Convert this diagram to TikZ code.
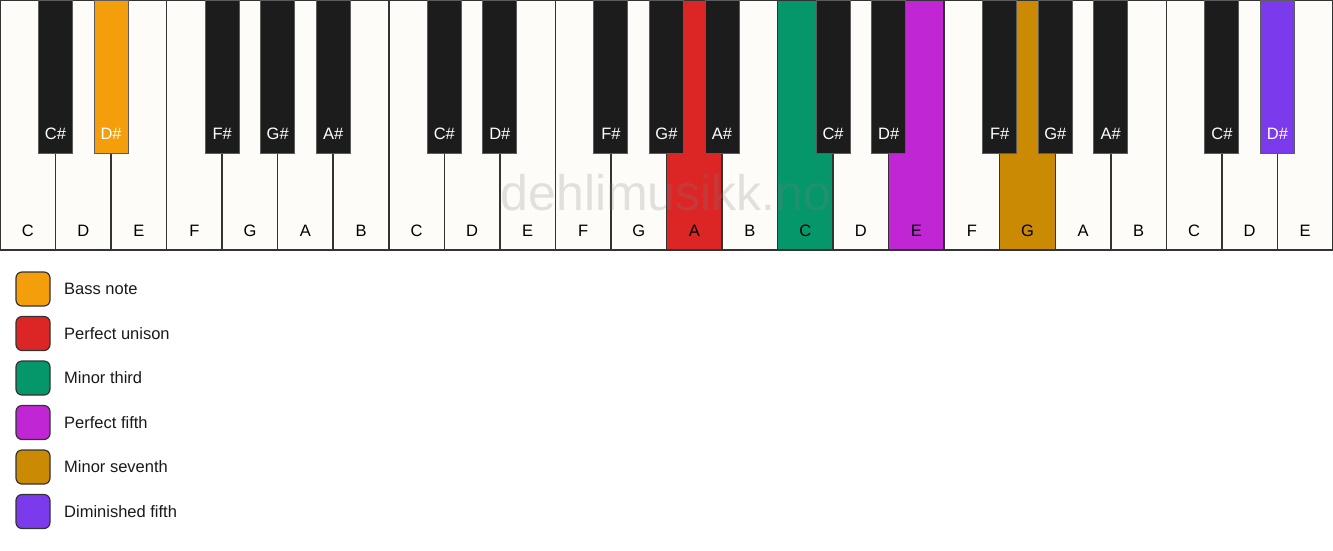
\documentclass[tikz,border=0pt]{standalone}
\usepackage{fontspec}
\setmainfont{Liberation Sans}
\usetikzlibrary{positioning}
\definecolor{ivory}{RGB}{253,252,248}
\definecolor{keyblack}{RGB}{28,28,28}
\definecolor{keyline}{RGB}{51,51,51}
\definecolor{bassnote}{HTML}{F59E0B}
\definecolor{unison}{HTML}{DC2626}
\definecolor{minthird}{HTML}{059669}
\definecolor{perffifth}{HTML}{C026D3}
\definecolor{minseventh}{HTML}{CA8A04}
\definecolor{dimfifth}{HTML}{7C3AED}
\newcommand{\whitewidth}{55.54pt}
\newcommand{\whiteheight}{250pt}
\newcommand{\blackwidth}{34pt}
\newcommand{\blackheight}{153pt}
\newcommand{\swatchsize}{34pt}
\newcommand{\legendgap}{10.5pt}
\tikzstyle{whitekey}=[fill=ivory,draw=keyline,line width=1.5pt,shape=rectangle,
                      inner sep=0pt,outer sep=0pt,
                      minimum width=\whitewidth,minimum height=\whiteheight]
\tikzstyle{blackkey}=[fill=keyblack,draw=keyline!80,line width=1pt,shape=rectangle,
                      inner sep=0pt,outer sep=0pt,
                      minimum width=\blackwidth,minimum height=\blackheight]
\tikzstyle{keyname}=[yshift=29pt,text height=12pt,text depth=0pt,
                     font=\fontsize{16.5}{19}\selectfont]
\tikzstyle{swatch}=[draw=keyline,line width=1.2pt,rounded corners=6pt,shape=rectangle,
                    inner sep=0pt,outer sep=0pt,
                    minimum width=\swatchsize,minimum height=\swatchsize]
\tikzstyle{legendtext}=[text=black!90,inner sep=0pt,font=\fontsize{16.5}{19}\selectfont]
\tikzstyle{watermark}=[text=black!50,text opacity=0.22,font=\fontsize{50}{60}\selectfont]

\begin{document}
\begin{tikzpicture}[x=1pt,y=-1pt]
\useasboundingbox (0,0) rectangle (1333,550);

% white keys
\node [whitekey, anchor=north west, label={[keyname]below:C}] (w0) at (0,0) {};
\node [whitekey, right=0pt of w0,  label={[keyname]below:D}] (w1) {};
\node [whitekey, right=0pt of w1,  label={[keyname]below:E}] (w2) {};
\node [whitekey, right=0pt of w2,  label={[keyname]below:F}] (w3) {};
\node [whitekey, right=0pt of w3,  label={[keyname]below:G}] (w4) {};
\node [whitekey, right=0pt of w4,  label={[keyname]below:A}] (w5) {};
\node [whitekey, right=0pt of w5,  label={[keyname]below:B}] (w6) {};
\node [whitekey, right=0pt of w6,  label={[keyname]below:C}] (w7) {};
\node [whitekey, right=0pt of w7,  label={[keyname]below:D}] (w8) {};
\node [whitekey, right=0pt of w8,  label={[keyname]below:E}] (w9) {};
\node [whitekey, right=0pt of w9,  label={[keyname]below:F}] (w10) {};
\node [whitekey, right=0pt of w10, label={[keyname]below:G}] (w11) {};
\node [whitekey, fill=unison, right=0pt of w11, label={[keyname]below:A}] (w12) {};
\node [whitekey, right=0pt of w12, label={[keyname]below:B}] (w13) {};
\node [whitekey, fill=minthird, right=0pt of w13, label={[keyname]below:C}] (w14) {};
\node [whitekey, right=0pt of w14, label={[keyname]below:D}] (w15) {};
\node [whitekey, fill=perffifth, right=0pt of w15, label={[keyname]below:E}] (w16) {};
\node [whitekey, right=0pt of w16, label={[keyname]below:F}] (w17) {};
\node [whitekey, fill=minseventh, right=0pt of w17, label={[keyname]below:G}] (w18) {};
\node [whitekey, right=0pt of w18, label={[keyname]below:A}] (w19) {};
\node [whitekey, right=0pt of w19, label={[keyname]below:B}] (w20) {};
\node [whitekey, right=0pt of w20, label={[keyname]below:C}] (w21) {};
\node [whitekey, right=0pt of w21, label={[keyname]below:D}] (w22) {};
\node [whitekey, right=0pt of w22, label={[keyname]below:E}] (w23) {};

\node [watermark] (mark) at (666,193) {dehlimusikk.no};

% black keys
\node [blackkey, below=0pt of w0.north east,  label={[keyname,text=white]below:C\#}] (b0) {};
\node [blackkey, fill=bassnote, below=0pt of w1.north east, label={[keyname,text=white]below:D\#}] (b1) {};
\node [blackkey, below=0pt of w3.north east,  label={[keyname,text=white]below:F\#}] (b3) {};
\node [blackkey, below=0pt of w4.north east,  label={[keyname,text=white]below:G\#}] (b4) {};
\node [blackkey, below=0pt of w5.north east,  label={[keyname,text=white]below:A\#}] (b5) {};
\node [blackkey, below=0pt of w7.north east,  label={[keyname,text=white]below:C\#}] (b7) {};
\node [blackkey, below=0pt of w8.north east,  label={[keyname,text=white]below:D\#}] (b8) {};
\node [blackkey, below=0pt of w10.north east, label={[keyname,text=white]below:F\#}] (b10) {};
\node [blackkey, below=0pt of w11.north east, label={[keyname,text=white]below:G\#}] (b11) {};
\node [blackkey, below=0pt of w12.north east, label={[keyname,text=white]below:A\#}] (b12) {};
\node [blackkey, below=0pt of w14.north east, label={[keyname,text=white]below:C\#}] (b14) {};
\node [blackkey, below=0pt of w15.north east, label={[keyname,text=white]below:D\#}] (b15) {};
\node [blackkey, below=0pt of w17.north east, label={[keyname,text=white]below:F\#}] (b17) {};
\node [blackkey, below=0pt of w18.north east, label={[keyname,text=white]below:G\#}] (b18) {};
\node [blackkey, below=0pt of w19.north east, label={[keyname,text=white]below:A\#}] (b19) {};
\node [blackkey, below=0pt of w21.north east, label={[keyname,text=white]below:C\#}] (b21) {};
\node [blackkey, fill=dimfifth, below=0pt of w22.north east, label={[keyname,text=white]below:D\#}] (b22) {};

% legend
\node [swatch, fill=bassnote] (s1) at (33,289) {};
\node [legendtext, right=14pt of s1] (t1) {Bass note};
\node [swatch, fill=unison, below=\legendgap of s1] (s2) {};
\node [legendtext, right=14pt of s2] (t2) {Perfect unison};
\node [swatch, fill=minthird, below=\legendgap of s2] (s3) {};
\node [legendtext, right=14pt of s3] (t3) {Minor third};
\node [swatch, fill=perffifth, below=\legendgap of s3] (s4) {};
\node [legendtext, right=14pt of s4] (t4) {Perfect fifth};
\node [swatch, fill=minseventh, below=\legendgap of s4] (s5) {};
\node [legendtext, right=14pt of s5] (t5) {Minor seventh};
\node [swatch, fill=dimfifth, below=\legendgap of s5] (s6) {};
\node [legendtext, right=14pt of s6] (t6) {Diminished fifth};
\end{tikzpicture}
\end{document}
